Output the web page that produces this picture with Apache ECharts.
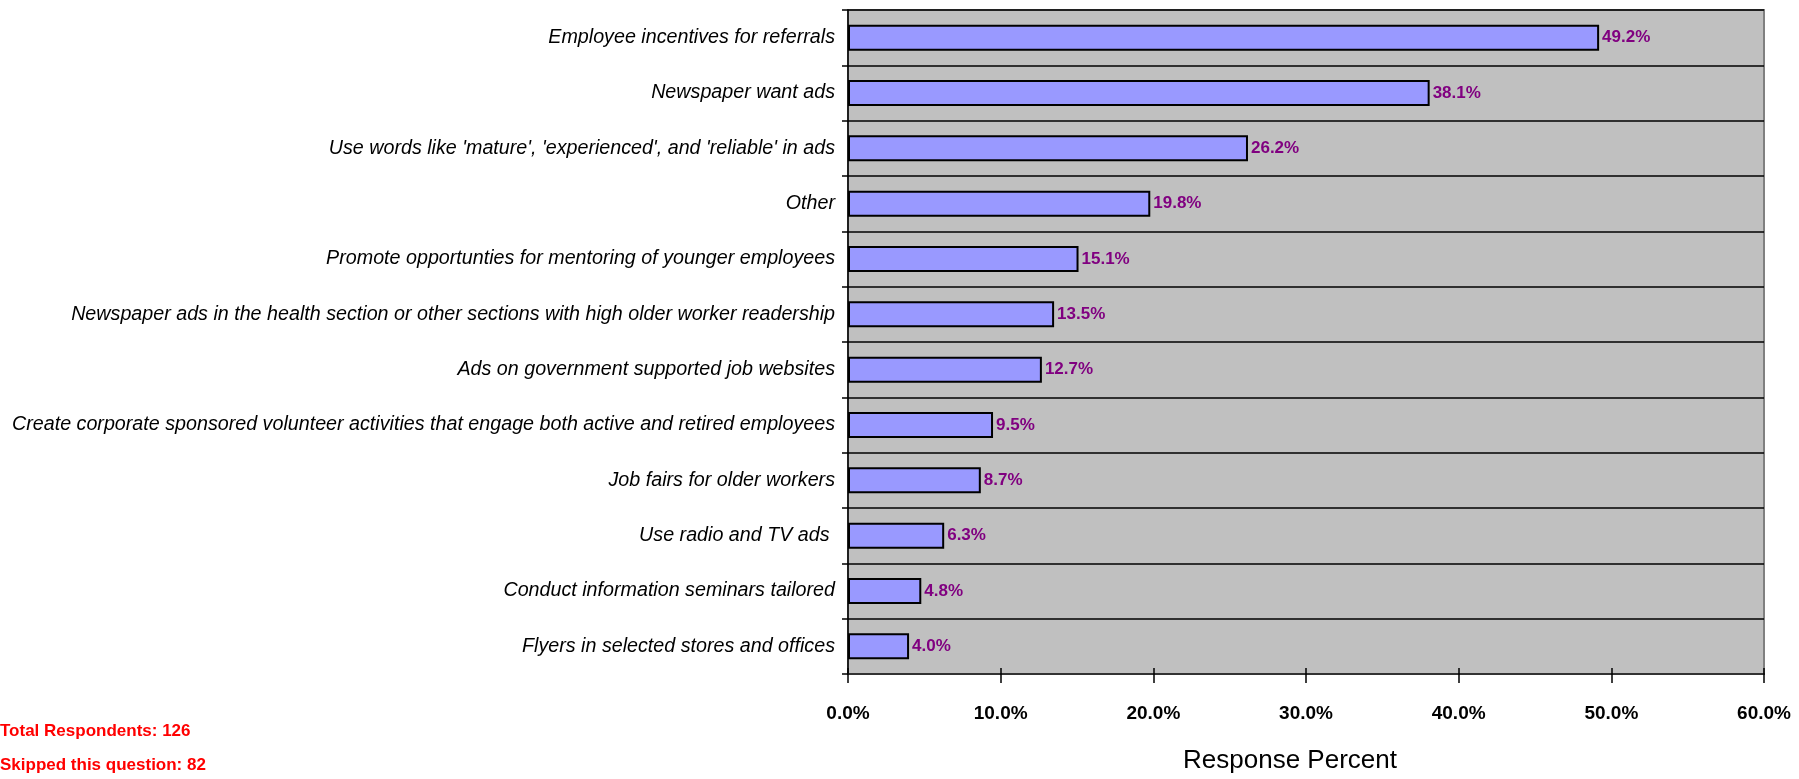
<!DOCTYPE html>
<html>
<head>
<meta charset="utf-8">
<script src="https://cdn.jsdelivr.net/npm/echarts@6/dist/echarts.min.js"></script>
<style>
  html, body { margin: 0; padding: 0; background: #fff; }
  #chart { width: 1799px; height: 779px; }
</style>
</head>
<body>
<div id="chart"></div>
<script>
var categories = [
  'Employee incentives for referrals',
  'Newspaper want ads',
  "Use words like 'mature', 'experienced', and 'reliable' in ads",
  'Other',
  'Promote opportunties for mentoring of younger employees',
  'Newspaper ads in the health section or other sections with high older worker readership',
  'Ads on government supported job websites',
  'Create corporate sponsored volunteer activities that engage both active and retired employees',
  'Job fairs for older workers',
  'Use radio and TV ads ',
  'Conduct information seminars tailored',
  'Flyers in selected stores and offices'
]
var responsePercent = [49.2, 38.1, 26.2, 19.8, 15.1, 13.5, 12.7, 9.5, 8.7, 6.3, 4.8, 4.0]
var footnotes = ['Total Respondents: 126', 'Skipped this question: 82']

var font = '"Liberation Sans", Arial, sans-serif'

function pct(v) {
  return v.toFixed(1) + '%'
}

var chart = echarts.init(document.getElementById('chart'))
chart.setOption({
  animation: false,
  textStyle: { fontFamily: font },
  grid: {
    left: 848,
    right: 35,
    top: 10,
    bottom: 105,
    outerBoundsMode: 'none',
    show: true,
    backgroundColor: '#C0C0C0',
    borderColor: '#808080',
    borderWidth: 2
  },
  xAxis: [{
    type: 'value',
    min: 0,
    max: 60,
    interval: 10,
    name: 'Response Percent',
    nameLocation: 'middle',
    nameGap: 74,
    nameTextStyle: { fontSize: 26, color: '#000', fontFamily: font, padding: [0, 32, 0, 0] },
    axisLine: { show: true, lineStyle: { color: '#333', width: 2 } },
    axisTick: { show: true, length: 9, lineStyle: { color: '#000', width: 1.5 } },
    axisLabel: {
      margin: 30,
      fontSize: 19,
      fontWeight: 'bold',
      color: '#000',
      formatter: pct
    },
    splitLine: { show: false }
  }, {
    // short ticks pointing up into the plot, as in the source chart
    type: 'value',
    min: 0,
    max: 60,
    interval: 10,
    position: 'bottom',
    axisLine: { show: false },
    axisTick: { show: true, inside: true, length: 6, lineStyle: { color: '#000', width: 1.5 } },
    axisLabel: { show: false },
    splitLine: { show: false }
  }],
  yAxis: {
    type: 'category',
    inverse: true,
    data: categories,
    axisLine: { show: true, lineStyle: { color: '#000', width: 1.5 } },
    axisTick: { show: true, length: 6, lineStyle: { color: '#000', width: 1.5 } },
    axisLabel: {
      margin: 13,
      fontSize: 19.7,
      fontStyle: 'italic',
      color: '#000'
    },
    splitLine: { show: true, lineStyle: { color: '#000', width: 1.5 } }
  },
  series: [{
    type: 'bar',
    xAxisIndex: 0,
    data: responsePercent,
    barWidth: 26,
    itemStyle: { color: '#9999FF', borderColor: '#000', borderWidth: 2 },
    label: {
      show: true,
      position: 'right',
      distance: 3,
      fontSize: 17,
      fontWeight: 'bold',
      color: '#800080',
      formatter: function(p) { return pct(p.value) }
    }
  }],
  graphic: footnotes.map(function(t, i) {
    return {
      type: 'text',
      left: 0,
      top: 723 + i * 34,
      style: { text: t, fill: '#FF0000', font: 'bold 17px ' + font }
    }
  })
})
</script>
</body>
</html>
